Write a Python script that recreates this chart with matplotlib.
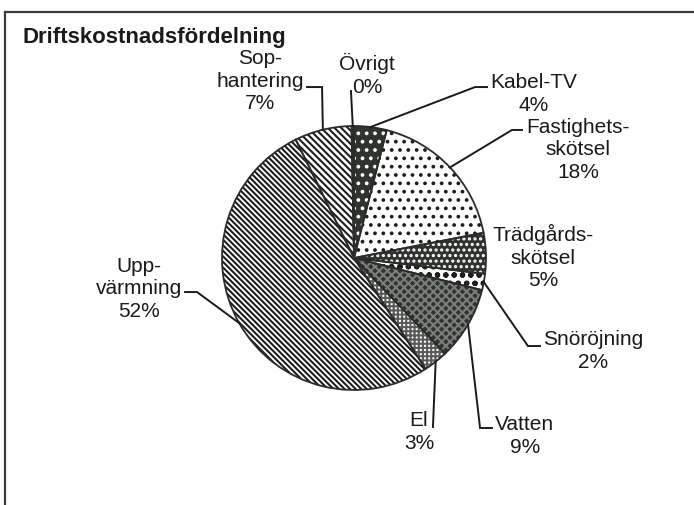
import numpy as np
import matplotlib
matplotlib.use("Agg")
import matplotlib.pyplot as plt
from matplotlib.lines import Line2D

plt.rcParams["font.family"] = ["Liberation Sans", "DejaVu Sans"]
plt.rcParams["hatch.linewidth"] = 1.5

# slices in clockwise order starting at 12 o'clock
categories = ["Kabel-TV", "Fastighets-\nskötsel", "Trädgårds-\nskötsel", "Snöröjning",
              "Vatten", "El", "Upp-\nvärmning", "Sop-\nhantering", "Övrigt"]
values = [4, 18, 5, 2, 9, 3, 52, 7, 0.3]

faces = ["#2e332e", "white", "#2e332e", "white", "#2e332e", "white", "white", "white", "#2e332e"]
hatches = ["..", "..", "...", "oo", "xxxx", "++++", "\\" * 6, "\\" * 5, ""]
hatch_cols = ["white", "#1e1e1e", "white", "#1e1e1e", "#7a7f7a", "#5a5a5a", "#1e1e1e", "#1e1e1e", "#2e332e"]

# label placement (pie units, centre 0,0 radius 1) and leader elbows
label_pos = [(1.364, 1.25), (1.697, 0.826), (1.432, 0.015), (1.811, -0.697),
             (1.295, -1.341), (0.492, -1.311), (-1.629, -0.227), (-0.712, 1.348), (0.098, 1.394)]
leaders = [
    [(0.917, 1.295), (1.008, 1.295)],
    [(1.197, 0.970), (1.273, 0.970)],
    None,
    [(1.318, -0.667), (1.409, -0.667)],
    [(0.955, -1.288), (1.045, -1.288)],
    [(0.598, -1.280)],
    [(-1.189, -0.258), (-1.280, -0.258)],
    [(-0.242, 1.295), (-0.356, 1.295)],
    [(-0.023, 1.265)],
]

W, H = 694, 506
CX, CY, R = 354, 259, 132


def fix_axes(ax):
    ax.set_xlim(-CX / R, (W - CX) / R)
    ax.set_ylim(-(H - CY) / R, CY / R)
    ax.set_aspect("auto")
    ax.axis("off")


fig = plt.figure(figsize=(W / 100, H / 100), dpi=100)
ax = fig.add_axes([0, 0, 1, 1])

wedges, _ = ax.pie(values, startangle=90, counterclock=False, colors=faces,
                   radius=1, center=(0, 0), frame=True,
                   wedgeprops=dict(linewidth=0))
for w, h, hc in zip(wedges, hatches, hatch_cols):
    w.set_hatch(h)
    w.set_edgecolor(hc)
    w.set_linewidth(0)

# outlines
ax.pie(values, startangle=90, counterclock=False, colors=["none"] * len(values),
       radius=1, center=(0, 0), frame=True,
       wedgeprops=dict(edgecolor="#2b2b2b", linewidth=1.3, fill=False))
fix_axes(ax)

total = sum(values)
for w, name, v, pos, lead in zip(wedges, categories, values, label_pos, leaders):
    pct = round(v / total * 100)
    ax.text(pos[0], pos[1], f"{name}\n{pct:.0f}%", ha="center", va="center",
            fontsize=15, color="#1a1a1a", linespacing=1.25)
    if lead:
        mid = np.deg2rad((w.theta1 + w.theta2) / 2)
        pts = [(np.cos(mid), np.sin(mid))] + lead
        xs, ys = zip(*pts)
        ax.plot(xs, ys, color="#1a1a1a", linewidth=1.4, solid_joinstyle="miter")

fig.text(22 / W, 1 - 27 / H, "Driftskostnadsfördelning", fontsize=16, fontweight="bold",
         ha="left", va="top", color="#1a1a1a")

# chart frame (only top and left edge are in view)
fig.add_artist(Line2D([5 / W, 5 / W], [0, 1 - 13 / H], color="#3c3c3c", linewidth=1.6))
fig.add_artist(Line2D([5 / W, 1], [1 - 13 / H, 1 - 13 / H], color="#3c3c3c", linewidth=1.6))

fig.savefig("out.png", dpi=100)
